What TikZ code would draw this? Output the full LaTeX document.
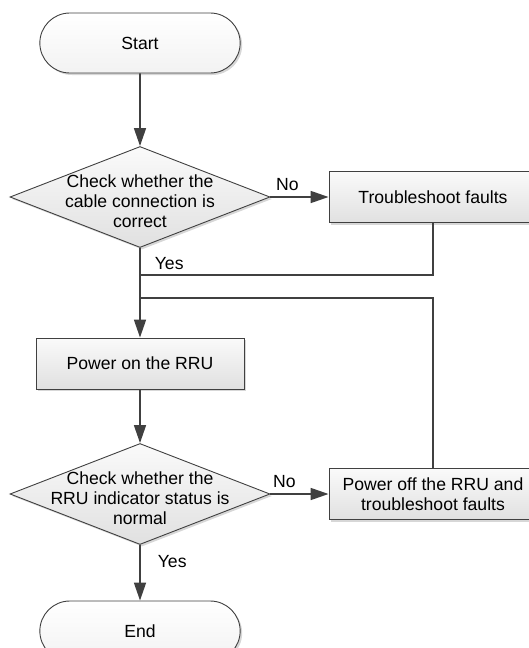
\documentclass[tikz,border=0pt]{standalone}
\usepackage{fontspec}
\setmainfont{Liberation Sans}
\usetikzlibrary{arrows.meta,shapes.geometric,shapes.misc,shadows}
\def\colmain{140}
\def\colside{433}
\def\rowstart{43}
\def\rowchkone{197}
\def\rowpwr{363.5}
\def\rowchktwo{494}
\def\rowend{631}

\begin{document}
\begin{tikzpicture}[x=1pt,y=-1pt,
		font=\fontsize{17.6}{20}\selectfont,
		shd/.style={drop shadow={shadow xshift=2pt,shadow yshift=-2pt,opacity=0.35,fill=black!45}},
		term/.style={rounded rectangle,draw=black!75,line width=0.9pt,minimum width=207pt,
			minimum height=60pt,top color=white,bottom color=black!5,shd},
		proc/.style={rectangle,draw=black!75,line width=0.9pt,minimum width=208pt,
			minimum height=51pt,align=center,top color=black!2,bottom color=black!12,shd},
		decision/.style={diamond,draw=black!75,line width=0.9pt,minimum width=260pt,
			minimum height=101pt,inner sep=0pt,top color=black!2,bottom color=black!12,shd},
		dtext/.style={align=center,inner sep=0pt,yshift=-4pt},
		w/.style={-{Triangle[length=18pt,width=12pt]},draw=black!75,line width=1.7pt},
		p/.style={draw=black!75,line width=1.7pt},
		lab/.style={inner sep=1pt}]
	\useasboundingbox (0,0) rectangle (528,648);
	
	% ============ Knoten ============
	\node[term] (start) at (\colmain,\rowstart) {Start};
	\node[decision,label={[dtext]center:{Check whether the\\cable connection is\\correct}}]
		(chkcable) at (\colmain,\rowchkone) {};
	\node[proc] (fixcable) at (\colside,\rowchkone) {Troubleshoot faults};
	\node[proc] (pwron) at (\colmain,\rowpwr) {Power on the RRU};
	\node[decision,label={[dtext]center:{Check whether the\\RRU indicator status is\\normal}}]
		(chkled) at (\colmain,\rowchktwo) {};
	\node[proc] (pwroff) at (\colside,\rowchktwo) {Power off the RRU and\\troubleshoot faults};
	\node[term] (end) at (\colmain,\rowend) {End};
	
	% Einmuendungen der Rueckwege in die Hauptlinie
	\coordinate (joinone) at (\colmain,275);
	\coordinate (jointwo) at (\colmain,298);
	
	% ============ Verbindungen ============
	\draw[w] (start) -- (chkcable);
	\draw[w] (chkcable.east) -- node[lab,above=4pt,pos=0.29] {No} (fixcable.west);
	\draw[w] (chkcable.south) -- node[lab,right=13pt,pos=0.17] {Yes} (pwron.north);
	\draw[p] (fixcable.south) |- (joinone);
	\draw[p] (pwroff.north) |- (jointwo);
	\draw[w] (pwron) -- (chkled);
	\draw[w] (chkled.east) -- node[lab,above=4pt,pos=0.24] {No} (pwroff.west);
	\draw[w] (chkled.south) -- node[lab,right=16pt,pos=0.3] {Yes} (end.north);
	
\end{tikzpicture}
\end{document}
